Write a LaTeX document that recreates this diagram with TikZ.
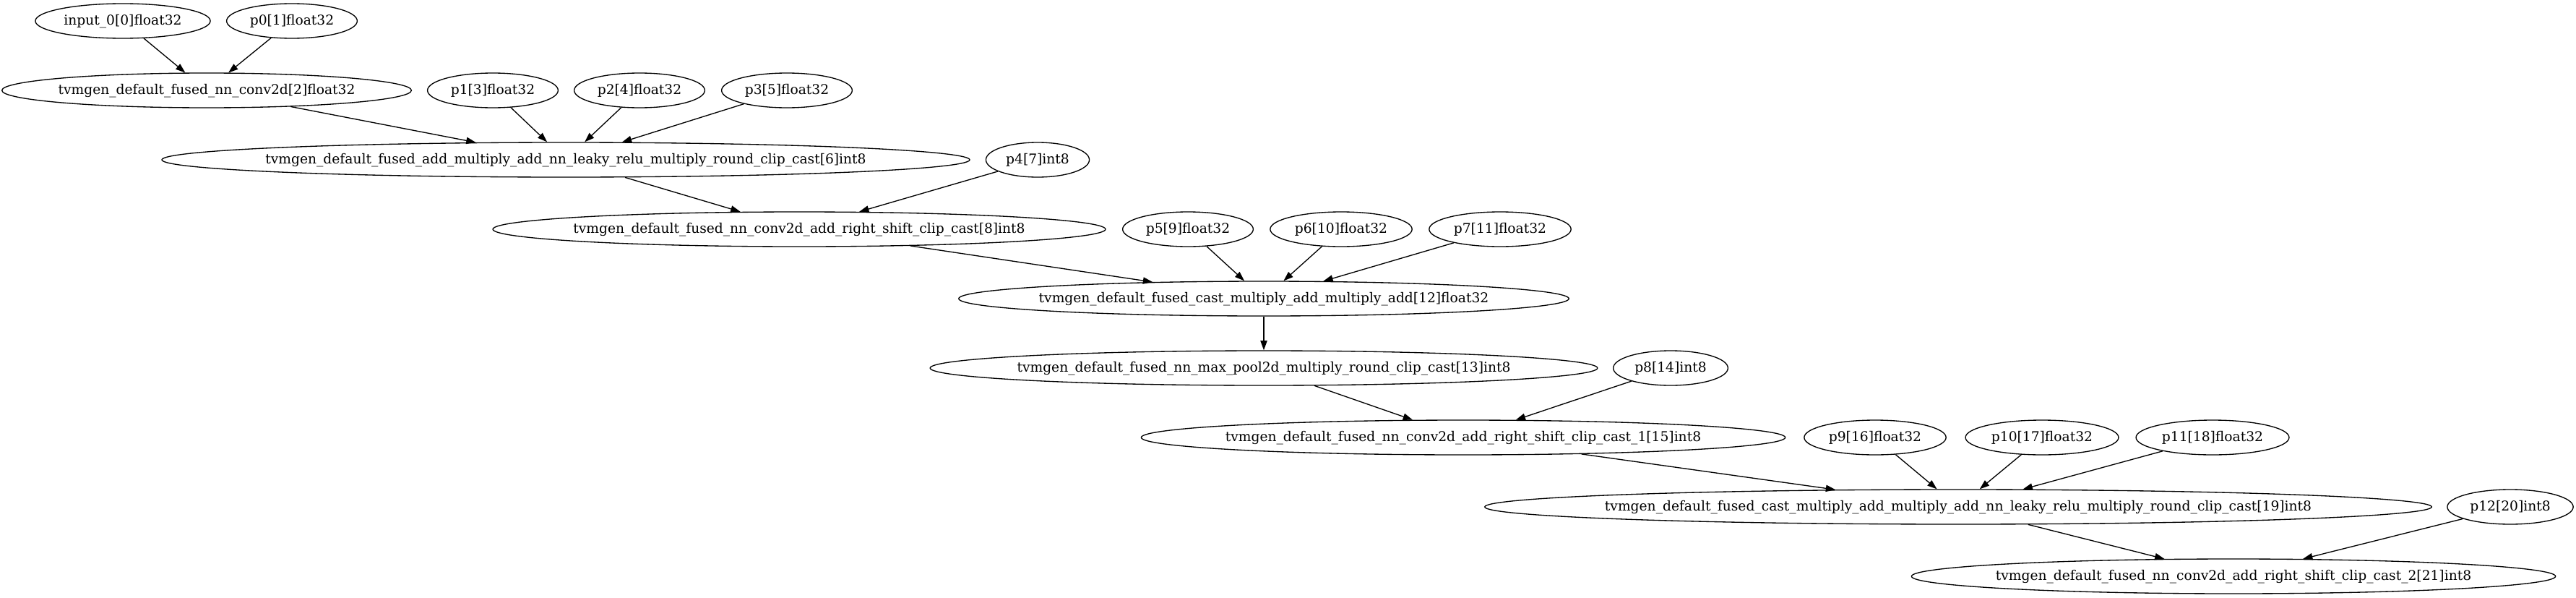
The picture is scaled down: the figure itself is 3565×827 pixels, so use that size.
\documentclass[tikz,border=0pt]{standalone}
\usepackage{fontspec}
\setmainfont{DejaVu Serif}
\usetikzlibrary{shapes.geometric,arrows.meta,calc}
\newcommand\gvfont{\fontsize{18.67pt}{22pt}\selectfont}
\newcommand\gvnode[3]{%
  \node[gvt] (#1t) at (#2) {#3};%
  \path let \p1=($(#1t.east)-(#1t.west)$) in
    node[gvn, minimum width={(\x1+21.12pt)*1.311}] (#1) at (#2) {};%
}
\tikzset{
  gvt/.style={inner sep=0pt, text height=14pt, text depth=4pt, font=\gvfont},
  gvn/.style={ellipse, draw, line width=1.33pt, inner sep=0pt, minimum height=48pt},
  gve/.style={line width=1.33pt, -{Triangle[length=13.3pt,width=9.3pt]}}
}
\begin{document}
\begin{tikzpicture}[x=1pt,y=-1pt]
\useasboundingbox[fill=white] (0,0) rectangle (3565,827);
% row 1
\gvnode{n0}{170,29}{input\_0[0]float32}
\gvnode{n1}{404,29}{p0[1]float32}
% row 2
\gvnode{n2}{286,125}{tvmgen\_default\_fused\_nn\_conv2d[2]float32}
\gvnode{n3}{682,125}{p1[3]float32}
\gvnode{n4}{885,125}{p2[4]float32}
\gvnode{n5}{1089,125}{p3[5]float32}
% row 3
\gvnode{n6}{783,221}{tvmgen\_default\_fused\_add\_multiply\_add\_nn\_leaky\_relu\_multiply\_round\_clip\_cast[6]int8}
\gvnode{n7}{1436,221}{p4[7]int8}
% row 4
\gvnode{n8}{1106,317}{tvmgen\_default\_fused\_nn\_conv2d\_add\_right\_shift\_clip\_cast[8]int8}
\gvnode{n9}{1644,317}{p5[9]float32}
\gvnode{n10}{1856,317}{p6[10]float32}
\gvnode{n11}{2076,317}{p7[11]float32}
% row 5
\gvnode{n12}{1749,413}{tvmgen\_default\_fused\_cast\_multiply\_add\_multiply\_add[12]float32}
% row 6
\gvnode{n13}{1749,509}{tvmgen\_default\_fused\_nn\_max\_pool2d\_multiply\_round\_clip\_cast[13]int8}
\gvnode{n14}{2312,509}{p8[14]int8}
% row 7
\gvnode{n15}{2025,605}{tvmgen\_default\_fused\_nn\_conv2d\_add\_right\_shift\_clip\_cast\_1[15]int8}
\gvnode{n16}{2595,605}{p9[16]float32}
\gvnode{n17}{2826,605}{p10[17]float32}
\gvnode{n18}{3062,605}{p11[18]float32}
% row 8
\gvnode{n19}{2710,701}{tvmgen\_default\_fused\_cast\_multiply\_add\_multiply\_add\_nn\_leaky\_relu\_multiply\_round\_clip\_cast[19]int8}
\gvnode{n20}{3474,701}{p12[20]int8}
% row 9
\gvnode{n21}{3091,797}{tvmgen\_default\_fused\_nn\_conv2d\_add\_right\_shift\_clip\_cast\_2[21]int8}
% edges
\draw[gve] (n0) -- (n2);
\draw[gve] (n1) -- (n2);
\draw[gve] (n2) -- (n6);
\draw[gve] (n3) -- (n6);
\draw[gve] (n4) -- (n6);
\draw[gve] (n5) -- (n6);
\draw[gve] (n6) -- (n8);
\draw[gve] (n7) -- (n8);
\draw[gve] (n8) -- (n12);
\draw[gve] (n9) -- (n12);
\draw[gve] (n10) -- (n12);
\draw[gve] (n11) -- (n12);
\draw[gve] (n12) -- (n13);
\draw[gve] (n13) -- (n15);
\draw[gve] (n14) -- (n15);
\draw[gve] (n15) -- (n19);
\draw[gve] (n16) -- (n19);
\draw[gve] (n17) -- (n19);
\draw[gve] (n18) -- (n19);
\draw[gve] (n19) -- (n21);
\draw[gve] (n20) -- (n21);
\end{tikzpicture}
\end{document}
